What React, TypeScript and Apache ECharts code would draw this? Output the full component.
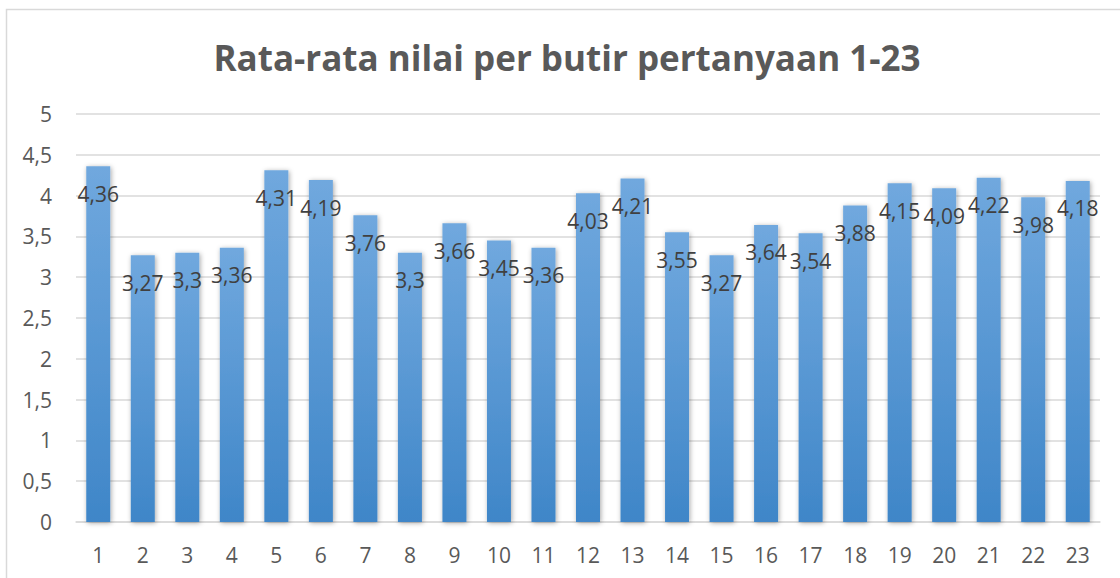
import React, { useEffect, useRef } from "react";
import * as echarts from "echarts";

const TITLE = "Rata-rata nilai per butir pertanyaan 1-23";
const categories = ["1","2","3","4","5","6","7","8","9","10","11","12","13","14","15","16","17","18","19","20","21","22","23"];
const values = [4.36, 3.27, 3.3, 3.36, 4.31, 4.19, 3.76, 3.3, 3.66, 3.45, 3.36, 4.03, 4.21, 3.55, 3.27, 3.64, 3.54, 3.88, 4.15, 4.09, 4.22, 3.98, 4.18];

const fmt = (v: number) => String(v).replace(".", ",");
const FONT = "'Open Sans', 'Liberation Sans', sans-serif";

export default function App() {
  const ref = useRef<HTMLDivElement>(null);
  useEffect(() => {
    document.body.style.margin = "0";
    const chart = echarts.init(ref.current!, null, { renderer: "svg" });
    chart.setOption({
      animation: false,
      backgroundColor: "#ffffff",
      textStyle: { fontFamily: FONT },
      graphic: [
        {
          type: "rect",
          shape: { x: 6.5, y: 9.5, width: 1130, height: 600 },
          style: { fill: "none", stroke: "#d9d9d9", lineWidth: 1.5 },
          silent: true,
        },
        {
          type: "text",
          x: 567,
          y: 57,
          style: {
            text: TITLE,
            fontFamily: FONT,
            fontWeight: "bold",
            fontSize: 35,
            fill: "#595959",
            textAlign: "center",
            textVerticalAlign: "middle",
          },
        },
      ],
      grid: { left: 76, right: 20, top: 114, bottom: 56, containLabel: false },
      xAxis: {
        type: "category",
        data: categories,
        axisTick: { show: false },
        axisLine: { lineStyle: { color: "#d9d9d9", width: 1.5 } },
        axisLabel: { color: "#595959", fontSize: 21, margin: 22, fontFamily: FONT },
      },
      yAxis: {
        type: "value",
        min: 0,
        max: 5,
        interval: 0.5,
        axisLine: { show: false },
        axisTick: { show: false },
        splitLine: { lineStyle: { color: "#d9d9d9", width: 1.5 } },
        axisLabel: { color: "#595959", fontSize: 21, margin: 24, fontFamily: FONT, formatter: (v: number) => fmt(v) },
      },
      series: [
        {
          type: "bar",
          data: values,
          barWidth: 24,
          itemStyle: {
            color: new echarts.graphic.LinearGradient(0, 0, 0, 1, [
              { offset: 0, color: "#70a8de" },
              { offset: 1, color: "#3f86c8" },
            ]),
            shadowBlur: 5,
            shadowColor: "rgba(0,0,0,0.35)",
            shadowOffsetX: 1,
            shadowOffsetY: 1,
          },
          label: {
            show: true,
            position: "insideTop",
            distance: 17,
            color: "#404040",
            fontSize: 21,
            fontFamily: FONT,
            formatter: (p: any) => fmt(p.value),
          },
        },
      ],
    });
    return () => chart.dispose();
  }, []);
  return <div ref={ref} style={{ width: 1120, height: 578 }} />;
}
